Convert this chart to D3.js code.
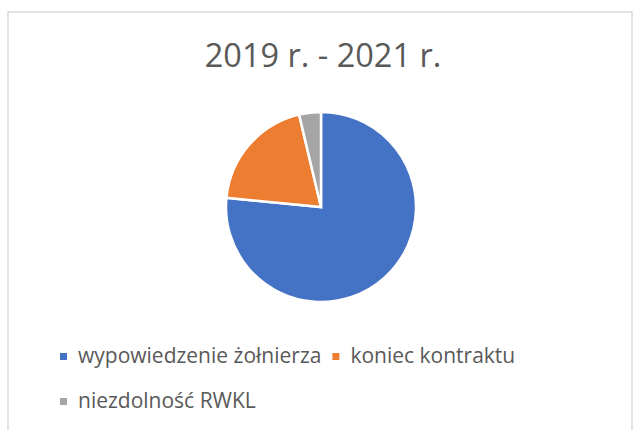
<!DOCTYPE html>
<html>
<head>
<meta charset="utf-8">
<script src="https://cdn.jsdelivr.net/npm/d3@7"></script>
<style>
  html, body { margin: 0; padding: 0; background: #fff; }
  svg { display: block; }
</style>
</head>
<body>
<svg id="chart" width="633" height="430"></svg>
<script>
const title = "2019 r. - 2021 r.";
const categories = ["wypowiedzenie żołnierza", "koniec kontraktu", "niezdolność RWKL"];
const values = [62, 16, 3];
const colors = ["#4472C4", "#ED7D31", "#A5A5A5"];

const svg = d3.select("#chart");
const FONT = "'Open Sans', sans-serif";

svg.append("rect")
  .attr("x", 8).attr("y", 12)
  .attr("width", 624).attr("height", 440)
  .attr("fill", "#fff")
  .attr("stroke", "#d9d9d9").attr("stroke-width", 1.5);

svg.append("text")
  .attr("x", 323).attr("y", 67)
  .attr("text-anchor", "middle")
  .attr("font-family", FONT)
  .attr("font-size", 32.5)
  .attr("fill", "#595959")
  .text(title);

const data = categories.map((c, i) => ({ name: c, value: values[i], color: colors[i] }));
const pie = d3.pie().value(d => d.value).sort(null);
const arc = d3.arc().innerRadius(0).outerRadius(95);

const g = svg.append("g").attr("transform", "translate(321,207)");
g.selectAll("path").data(pie(data)).join("path")
  .attr("d", arc)
  .attr("fill", d => d.data.color)
  .attr("stroke", "#fff")
  .attr("stroke-width", 2.5)
  .attr("stroke-linejoin", "miter");

// Legend with wrapping
const legend = svg.append("g");
const fs = 21;
let lx = 60, ly = 363;
const maxX = 560;
data.forEach((d, i) => {
  const item = legend.append("g");
  const t = item.append("text")
    .attr("x", 18).attr("y", 0)
    .attr("font-family", FONT)
    .attr("font-size", fs)
    .attr("fill", "#595959")
    .text(d.name);
  const w = 18 + t.node().getComputedTextLength();
  if (lx + w > maxX && i > 0) { lx = 60; ly += 45; }
  item.append("rect")
    .attr("x", 0).attr("y", -10)
    .attr("width", 7).attr("height", 7)
    .attr("fill", d.color);
  item.attr("transform", `translate(${lx},${ly})`);
  lx += w + 11;
});
</script>
</body>
</html>
